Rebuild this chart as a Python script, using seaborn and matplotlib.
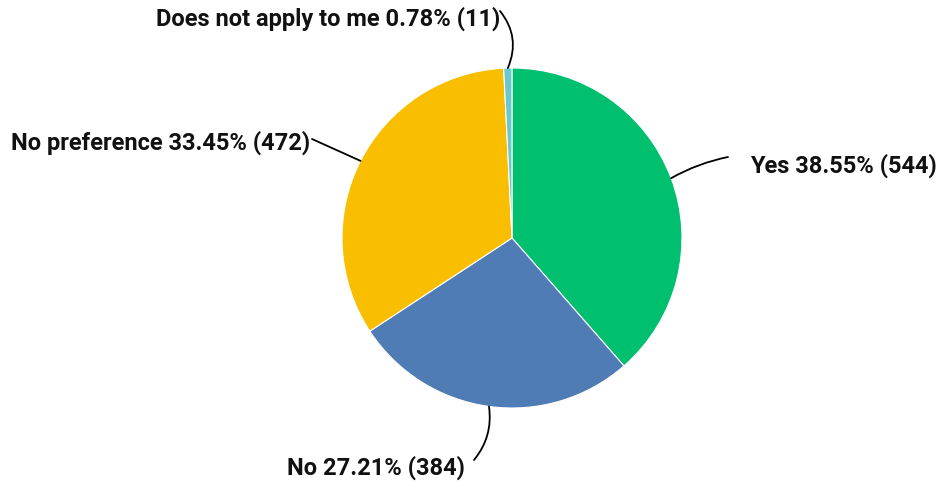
import matplotlib
matplotlib.use("Agg")
import matplotlib.pyplot as plt
import seaborn as sns
import numpy as np

labels = ["Yes", "No", "No preference", "Does not apply to me"]
percents = [38.55, 27.21, 33.45, 0.78]
counts = [544, 384, 472, 11]
colors = ["#00BF6F", "#507CB6", "#F9BE00", "#6BC8CD"]

sns.set_theme(style="white")
plt.rcParams["font.family"] = ["Roboto", "DejaVu Sans"]

W, H = 939, 482
fig = plt.figure(figsize=(W / 100, H / 100), dpi=100)
ax = fig.add_axes([0, 0, 1, 1])

cx, cy, r = 512, H - 238, 170
wedges, _ = ax.pie(counts, colors=colors, startangle=90, counterclock=False,
                   center=(cx, cy), radius=r, frame=True,
                   wedgeprops=dict(edgecolor="white", linewidth=0.8))
ax.set_xlim(0, W)
ax.set_ylim(0, H)
ax.set_aspect("equal")
ax.axis("off")

# label baseline positions (pixels from top-left), alignment,
# leader start point and curvature
text_pos = [(750, 173), (287, 475), (310, 150), (500, 26)]
aligns = ["left", "left", "right", "right"]
lead_start = [(728, 157), (474, 460), (312, 139), (500, 11)]
rads = [0.08, 0.22, 0.0, -0.3]

for w, lab, p, n, tp, ha, ls, rad in zip(wedges, labels, percents, counts,
                                          text_pos, aligns, lead_start, rads):
    ang = np.deg2rad((w.theta1 + w.theta2) / 2)
    xy = (cx + r * np.cos(ang), cy + r * np.sin(ang))
    ax.text(tp[0], H - tp[1], f"{lab} {p:.2f}% ({n})", ha=ha, va="baseline",
            fontsize=17, fontweight="bold", color="#111111")
    ax.annotate("", xy=xy, xytext=(ls[0], H - ls[1]),
                arrowprops=dict(arrowstyle="-", color="black", lw=1.3,
                                connectionstyle=f"arc3,rad={rad}",
                                shrinkA=0, shrinkB=0))

fig.savefig("out.png", dpi=100)
